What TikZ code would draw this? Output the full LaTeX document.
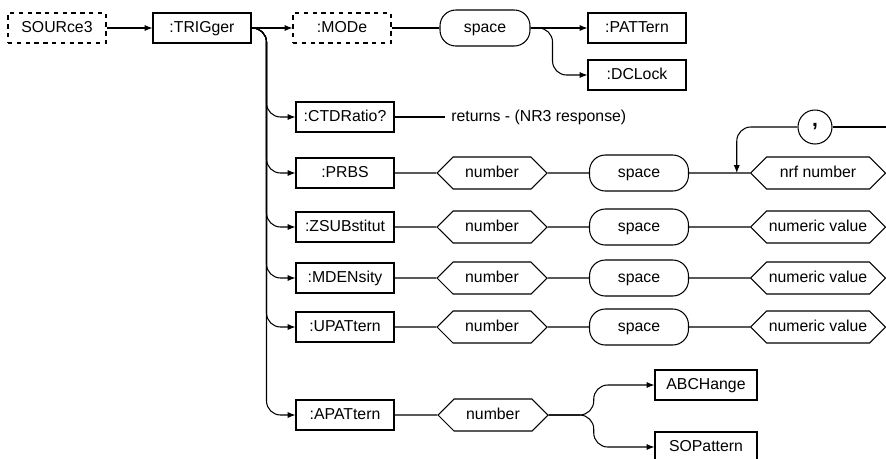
\documentclass[tikz,border=0pt]{standalone}
\usepackage{fontspec}
\setsansfont{Liberation Sans}
\usetikzlibrary{arrows.meta, positioning, shapes.symbols, calc}

\begin{document}
\begin{tikzpicture}[
    x=0.02cm, y=-0.02cm, line width=0.6pt,
    font=\sffamily\fontsize{9}{10}\selectfont,
    cmd/.style={draw, minimum width=1.96cm, minimum height=0.6cm, inner sep=1pt,
                text height=6.5pt, text depth=1.5pt},
    opt/.style={cmd, dash pattern=on 2.5pt off 2.5pt},
    spc/.style={draw, rounded corners=9pt, minimum width=1.98cm, minimum height=0.72cm,
                text height=6.5pt, text depth=1.5pt},
    val/.style={draw, signal, signal to=west and east, minimum width=#1,
                minimum height=0.64cm, inner sep=1pt, text height=6.5pt, text depth=1.5pt},
    arr/.style={-{Latex[length=4.5pt, width=3.5pt]}},
    fork/.style={arr, rounded corners=8pt},
]
    \useasboundingbox (0,0) rectangle (886,458);

    \node[opt] (src) at (57,28) {SOURce3};
    \node[cmd] (trig) at (202,28) {:TRIGger};
    \node[opt] (mode) at (342,28) {:MODe};
    \node[spc, minimum width=1.8cm] (sp0) at (485,28) {space};
    \node[cmd] (pat) at (637,28) {:PATTern};
    \node[cmd] (dcl) at (637,75) {:DCLock};

    \draw[arr] (src) -- (trig);
    \draw[arr] (trig) -- (mode);
    \draw (mode) -- (sp0);
    \draw[arr] (sp0) -- (pat);
    \draw[fork] (sp0.east) -- ++(22,0) |- (dcl);

    \node[cmd] (ctd) at (345,117) {:CTDRatio?};
    \node[anchor=west] (ret) at (445,117) {returns - (NR3 response)};
    \draw (ctd) -- (ret);
    \draw[fork] (trig.east) -- ++(15,0) |- (ctd);

    \foreach \nm/\txt/\yy/\vv in {prbs/:PRBS/173/nrf number, zsub/:ZSUBstitut/227/numeric value,
                                  mden/:MDENsity/278/numeric value, upat/:UPATtern/327/numeric value} {
        \node[cmd] (\nm) at (345,\yy) {\txt};
        \node[val=2.2cm] (\nm-num) at (492,\yy) {number};
        \node[spc] (\nm-sp) at (639,\yy) {space};
        \node[val=2.7cm] (\nm-val) at (818,\yy) {\vv};
        \draw (\nm) -- (\nm-num) -- (\nm-sp) -- (\nm-val);
        \draw[fork] (trig.east) -- ++(15,0) |- (\nm);
    }

    \node[draw, circle, minimum size=0.68cm, inner sep=0pt, font=\sffamily\bfseries\large] (comma) at (815,127) {,};
    \coordinate (back) at (886,127);
    \draw (back) -- (comma);
    \draw[arr, rounded corners=8pt] (comma) -| ($(prbs-val.west)+(-13,0)$);

    \node[cmd] (apat) at (345,415) {:APATtern};
    \node[val=2.2cm] (apat-num) at (493,415) {number};
    \node[cmd, minimum width=2.04cm] (abc) at (706,385) {ABCHange};
    \node[cmd, minimum width=2.04cm] (sop) at (706,447) {SOPattern};
    \draw (apat) -- (apat-num);
    \draw[fork] (trig.east) -- ++(15,0) |- (apat);
    \draw[fork] (apat-num.east) -- ++(45,0) |- (abc);
    \draw[fork] (apat-num.east) -- ++(45,0) |- (sop);
\end{tikzpicture}
\end{document}
